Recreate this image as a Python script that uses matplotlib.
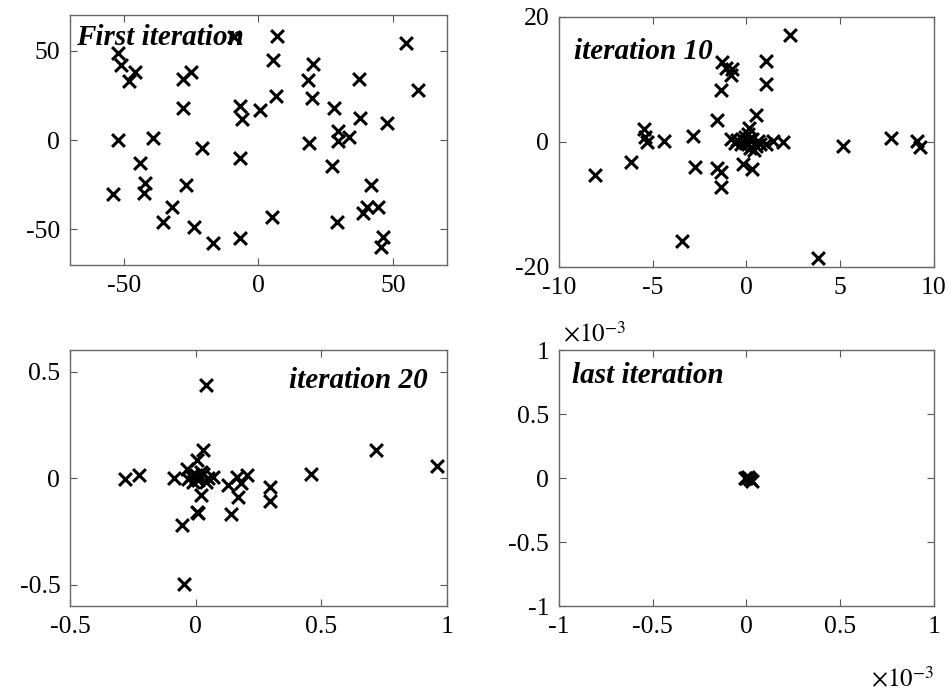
import numpy as np
import matplotlib.pyplot as plt
from matplotlib.ticker import FuncFormatter

plt.rcParams['font.family'] = ['Liberation Serif', 'DejaVu Serif']
plt.rcParams['mathtext.fontset'] = 'stix'
plt.rcParams['axes.unicode_minus'] = False

# -----------------------------
# Data
# -----------------------------

# first iteration
x_first = [-52, -51, -46, -48, -28, -25, -7, -6, 0.7, -28, -9, -52, -39,
           7, 5.6, 20.4, 18.6, 37.4, 54.8, 59.3, 6.7, 20, 28.2, 37.8, 47.7, 29.5, 33.7, 29.6, 18.9,
           -21, -7, -44, -42, -42.6, -54, -27, -32, -35.6, -24, -17, -6.7,
           27.4, 41.9, 38.9, 40.4, 44.4, 5.2, 29.3, 46.3, 45.6]
y_first = [49, 42, 38, 33, 34, 38, 19, 12, 17, 18, 58, 0, 1.4,
           58.5, 45, 42.6, 33.7, 34.5, 54.3, 28, 24.6, 23.8, 18, 12.4, 9.3, 5, 1.5, -0.8, -1.4,
           -4.2, -10, -12.9, -24, -29.7, -30, -25, -37.6, -46, -48.8, -58, -55,
           -14.4, -25, -41, -37.6, -37.6, -43, -46, -54.5, -60]

# iteration 10
x_it10 = [-1.28, -1.07, -0.8, -0.75, -1.34, -1.55, -5.45, -5.4, -5.3, -4.4, -2.83,
          2.35, 1.07, 1.07, 0.53, 0.16, 7.7, 9.1, 9.25,
          -8.1, -6.15, -2.73, -1.55, -1.34, -1.34, -3.42, -0.8,
          -0.2, 0.32, 1.07, 1.4, 1.93, 5.13, 3.8,
          0, 0.1, -0.2, 0.3, -0.5, 0.5, 0.2, -0.3, 0.6, -0.6, 0.4, 0.1, 0.7, -0.1]
y_it10 = [12.8, 11.8, 10.7, 11.7, 8.2, 3.5, 2.1, 0.8, 0, 0.2, 1.0,
          17.1, 12.9, 9.3, 4.3, 2.2, 0.6, 0.1, -0.8,
          -5.3, -3.2, -4.0, -4.2, -4.8, -7.2, -15.8, 0.5,
          -3.5, -4.3, -0.3, 0.2, -0.1, -0.6, -18.6,
          0, -0.4, 0.3, 0.4, 0.3, -0.6, -1.0, -0.3, 0.1, -0.2, -1.3, 1.3, -0.4, 0.8]

# iteration 20
x_it20 = [0.04, 0.028, 0.004, -0.036, -0.28, -0.226, -0.087, 0.07, 0.13, 0.165, 0.206,
          0.02, 0.004, 0.01, -0.056, 0.139, 0.17, 0.18, -0.048,
          0.72, 0.96, 0.46, 0.295, 0.295,
          0, 0.01, -0.02, 0.03, 0.04, -0.01, 0.02, 0.05, -0.03, 0.0]
y_it20 = [0.435, 0.13, 0.084, 0.042, -0.005, 0.014, 0, 0.005, -0.03, 0.005, 0.014,
          -0.08, -0.16, -0.165, -0.22, -0.17, -0.09, -0.025, -0.495,
          0.13, 0.056, 0.02, -0.04, -0.105,
          0, -0.01, 0.01, 0.02, -0.02, -0.02, 0.03, 0.0, -0.005, 0.015]

# last iteration (units of 1e-3)
x_last = [0, 0.02, -0.01, 0.03, 0.01]
y_last = [0, -0.01, 0.005, -0.02, 0.01]


# -----------------------------
# Visualization
# -----------------------------

fig = plt.figure(figsize=(9.49, 6.95), dpi=100)

fmt = FuncFormatter(lambda v, p: '%g' % v)

def setup(ax, xlim, ylim, xticks, yticks):
    ax.set_xlim(xlim)
    ax.set_ylim(ylim)
    ax.set_xticks(xticks)
    ax.set_yticks(yticks)
    ax.xaxis.set_major_formatter(fmt)
    ax.yaxis.set_major_formatter(fmt)
    ax.tick_params(direction='in', top=True, right=True, length=5,
                   labelsize=18.5, pad=7, color='#555555')
    for s in ax.spines.values():
        s.set_color('#666666')
        s.set_linewidth(1)

title_kw = dict(fontsize=21, fontweight='bold', fontstyle='italic')
mk = dict(marker='x', color='black', s=85, linewidths=2.2)

ax1 = fig.add_axes([0.0738, 0.619, 0.397, 0.359])
ax1.scatter(x_first, y_first, **mk)
setup(ax1, (-70, 70), (-70, 70), [-50, 0, 50], [-50, 0, 50])
ax1.text(0.015, 0.91, 'First iteration', transform=ax1.transAxes, ha='left', va='center', **title_kw)

ax2 = fig.add_axes([0.589, 0.616, 0.395, 0.36])
ax2.scatter(x_it10, y_it10, **mk)
setup(ax2, (-10, 10), (-20, 20), [-10, -5, 0, 5, 10], [-20, 0, 20])
ax2.text(0.04, 0.86, 'iteration 10', transform=ax2.transAxes, ha='left', va='center', **title_kw)

ax3 = fig.add_axes([0.0738, 0.128, 0.397, 0.368])
ax3.scatter(x_it20, y_it20, **mk)
setup(ax3, (-0.5, 1), (-0.6, 0.6), [-0.5, 0, 0.5, 1], [-0.5, 0, 0.5])
ax3.text(0.95, 0.88, 'iteration 20', transform=ax3.transAxes, ha='right', va='center', **title_kw)

ax4 = fig.add_axes([0.589, 0.128, 0.395, 0.368])
ax4.scatter(x_last, y_last, **mk)
setup(ax4, (-1, 1), (-1, 1), [-1, -0.5, 0, 0.5, 1], [-1, -0.5, 0, 0.5, 1])
ax4.text(0.035, 0.9, 'last iteration', transform=ax4.transAxes, ha='left', va='center', **title_kw)
ax4.text(0.01, 1.01, r'$\times10^{-3}$', transform=ax4.transAxes, ha='left', va='bottom', fontsize=18)
ax4.text(1.0, -0.24, r'$\times10^{-3}$', transform=ax4.transAxes, ha='right', va='top', fontsize=18)

plt.savefig('out.png', dpi=100)
